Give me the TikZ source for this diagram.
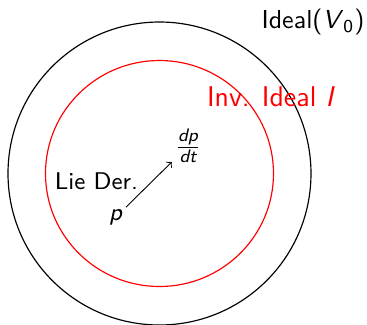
\documentclass[tikz,border=0pt]{standalone}
\usepackage{amsmath}
\begin{document}
\begin{tikzpicture}[x=0.385pt,y=-0.385pt,
  lbl/.style={font=\sffamily, inner sep=1pt},
  outer/.style={draw=black, line width=0.45pt},
  inner/.style={draw=red, line width=0.45pt}]
\useasboundingbox (0,0) rectangle (367,325);
\coordinate (c) at (159.5,173.5);
\draw[outer] (c) circle [x radius=151.5, y radius=-151.5];
\draw[inner] (c) circle [x radius=114, y radius=-113];
\node[lbl] (ideal) at (313,22) {Ideal(\textit{V}$_{\textsf{0}}$)};
\node[lbl, text=red, font=\sffamily\fontsize{11}{13}\selectfont] (inv) at (271,97) {Inv. Ideal \textit{I}};
\node[lbl, font=\sffamily\fontsize{9.3}{11}\selectfont] (p) at (116,217) {\textit{p}};
\node[lbl] (dpdt) at (188,146) {$\frac{\textit{dp}}{\textit{dt}}$};
\node[lbl, font=\sffamily\fontsize{9.3}{11}\selectfont] (lie) at (96.5,181) {Lie Der.};
\draw[->, line width=0.35pt] (p) -- (dpdt);
\end{tikzpicture}
\end{document}
